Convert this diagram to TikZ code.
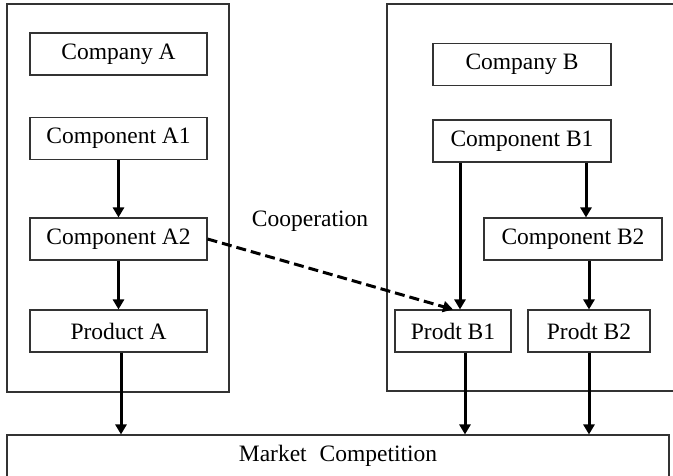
\documentclass[tikz,border=0pt]{standalone}
\usepackage{fontspec}
\setmainfont{Liberation Serif}
\usetikzlibrary{arrows.meta}
\begin{document}
\begin{tikzpicture}[x=1pt,y=-1pt,
  every node/.style={font=\fontsize{23.5}{27}\selectfont},
  unit/.style={draw=black!80, line width=1.1pt, inner sep=0pt, minimum height=42pt},
  group/.style={draw=black!80, line width=1.1pt, inner sep=0pt},
  flow/.style={line width=3pt, -{Triangle[width=11pt,length=10pt]}},
  coop/.style={flow, dash pattern=on 10pt off 5pt}]
\useasboundingbox (0,0) rectangle (673,475);

% company frames
\node[group, minimum width=222pt, minimum height=388pt] (groupA) at (118,198) {};
\node[group, minimum width=303pt, minimum height=387pt] (groupB) at (538.5,197.5) {};

% company A
\node[unit, minimum width=177pt] (compA)  at (118.5,54)  {Company A};
\node[unit, minimum width=177pt] (compA1) at (118.5,138.5) {Component A1};
\node[unit, minimum width=177pt] (compA2) at (118.5,239) {Component A2};
\node[unit, minimum width=177pt] (prodA)  at (118.5,331) {Product A};

% company B
\node[unit, minimum width=178pt] (compB)  at (522,64.5) {Company B};
\node[unit, minimum width=178pt] (compB1) at (522,141)  {Component B1};
\node[unit, minimum width=178pt] (compB2) at (573,239)  {Component B2};
\node[unit, minimum width=116pt] (prodB1) at (453,331)  {Prodt B1};
\node[unit, minimum width=122pt] (prodB2) at (589,331)  {Prodt B2};

% market
\node[unit, minimum width=662pt, minimum height=42pt] (market) at (338,456) {Market\hspace{0.3em} Competition};

\node (coopLabel) at (310,221) {Cooperation};

% flows inside company A
\draw[flow] (compA1.south) -- (compA2.north);
\draw[flow] (compA2.south) -- (prodA.north);
\draw[flow] ([xshift=2.5]prodA.south) -- ([xshift=2.5]prodA.south |- market.north);

% flows inside company B
\draw[flow] ([xshift=7]prodB1.north |- compB1.south) -- ([xshift=7]prodB1.north);
\draw[flow] ([xshift=-3]prodB2.north |- compB1.south) -- ([xshift=-3]prodB2.north |- compB2.north);
\draw[flow] (prodB2.north |- compB2.south) -- (prodB2.north);
\draw[flow] ([xshift=12]prodB1.south) -- ([xshift=12]prodB1.south |- market.north);
\draw[flow] (prodB2.south) -- (prodB2.south |- market.north);

% cooperation link
\draw[coop] (compA2.east) -- (prodB1.north);
\end{tikzpicture}
\end{document}
